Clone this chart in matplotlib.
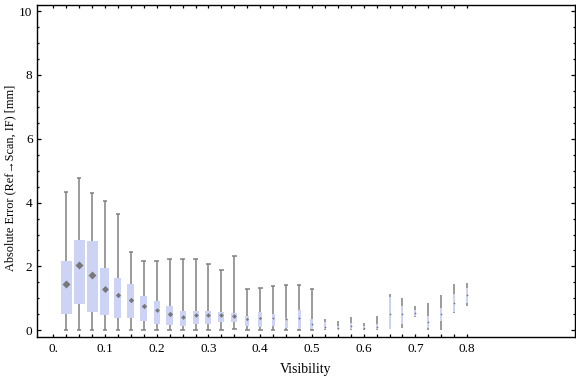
import matplotlib
matplotlib.use('Agg')
import matplotlib.pyplot as plt
from matplotlib.ticker import FixedLocator, MultipleLocator

# ---- data ----
visibility = [0.025, 0.05, 0.075, 0.1, 0.125, 0.15, 0.175, 0.2, 0.225, 0.25,
              0.275, 0.3, 0.325, 0.35, 0.375, 0.4, 0.425, 0.45, 0.475, 0.5,
              0.525, 0.55, 0.575, 0.6, 0.625, 0.65, 0.675, 0.7, 0.725, 0.75,
              0.775, 0.8]
whisker_low = [0, 0, 0, 0, 0, 0, 0, 0, 0, 0,
               0, 0, 0, 0.03, 0, 0, 0, 0, 0, 0.02,
               0.01, 0.01, 0.01, 0.01, 0, 0.03, 0.08, 0.42, 0.02, 0,
               0.55, 0.77]
q1 = [0.52, 0.83, 0.57, 0.49, 0.40, 0.40, 0.30, 0.21, 0.18, 0.15,
      0.21, 0.21, 0.27, 0.27, 0.15, 0.10, 0.15, 0.08, 0.05, 0.04,
      0.03, 0.02, 0.03, 0.03, 0.03, 0.05, 0.21, 0.46, 0.08, 0.30,
      0.57, 0.85]
median = [1.45, 2.04, 1.73, 1.29, 1.10, 0.96, 0.76, 0.63, 0.52, 0.43,
          0.48, 0.48, 0.49, 0.44, 0.35, 0.40, 0.40, 0.34, 0.38, 0.21,
          0.11, 0.07, 0.12, 0.07, 0.10, 0.50, 0.50, 0.55, 0.25, 0.50,
          0.85, 1.10]
q3 = [2.17, 2.83, 2.80, 1.95, 1.64, 1.45, 1.08, 0.92, 0.77, 0.60,
      0.60, 0.60, 0.57, 0.54, 0.45, 0.57, 0.51, 0.39, 0.64, 0.35,
      0.25, 0.13, 0.23, 0.12, 0.20, 1.04, 0.76, 0.64, 0.46, 0.70,
      1.13, 1.32]
whisker_high = [4.32, 4.76, 4.29, 4.04, 3.63, 2.44, 2.16, 2.16, 2.23, 2.22,
                2.22, 2.07, 1.88, 2.32, 1.28, 1.32, 1.38, 1.41, 1.41, 1.28,
                0.35, 0.29, 0.42, 0.23, 0.45, 1.14, 1.01, 0.75, 0.85, 1.11,
                1.45, 1.48]
box_width_px = [11, 11, 11, 9, 7, 7, 7, 6, 7, 6,
                6, 6, 6, 6, 4, 4, 3, 3, 3, 3,
                2, 2, 2, 2, 2, 2, 2, 2, 2, 2, 2, 2]
x_tick_labels = ['0.', '0.1', '0.2', '0.3', '0.4', '0.5', '0.6', '0.7', '0.8']
x_tick_values = [0.0, 0.1, 0.2, 0.3, 0.4, 0.5, 0.6, 0.7, 0.8]
y_tick_values = [0, 2, 4, 6, 8, 10]

# ---- style ----
plt.rcParams['font.family'] = ['Liberation Serif', 'DejaVu Serif']
W, H, DPI = 576, 377, 100
fig = plt.figure(figsize=(W / DPI, H / DPI), dpi=DPI)
left, right, bottom, top = 36.7, 575.3, 337.0, 4.7
ax = fig.add_axes([left / W, 1 - bottom / H, (right - left) / W, (bottom - top) / H])

xmin, xmax = -0.032, 1.009
ax.set_xlim(xmin, xmax)
ax.set_ylim(-0.21, 10.2)
px_per_unit = (right - left) / (xmax - xmin)

box_color = '#ccd3f5'
whisk_color = '#808080'
for i, x in enumerate(visibility):
    w = box_width_px[i] / px_per_unit
    ax.vlines(x, whisker_low[i], whisker_high[i], color=whisk_color, lw=1.1, zorder=2)
    if box_width_px[i] >= 3:
        cw = 4.6 / px_per_unit
        ax.hlines([whisker_low[i], whisker_high[i]], x - cw / 2, x + cw / 2,
                  color=whisk_color, lw=1.1, zorder=2)
    ax.bar(x, q3[i] - q1[i], bottom=q1[i], width=w, color=box_color,
           edgecolor='none', zorder=3)
    ms = max(1.5, min(6.0, box_width_px[i] * 0.55))
    ax.plot(x, median[i], marker='D', ms=ms * 72 / DPI, color='#787878',
            mec='none', zorder=4)

# ticks
ax.xaxis.set_major_locator(FixedLocator(x_tick_values))
ax.set_xticklabels(x_tick_labels)
ax.xaxis.set_minor_locator(FixedLocator(visibility))
ax.yaxis.set_major_locator(FixedLocator(y_tick_values))
ax.yaxis.set_minor_locator(MultipleLocator(0.5))
ax.tick_params(axis='both', which='both', direction='in', top=True, right=True,
               width=0.9, labelsize=9.5, color='black')
ax.tick_params(axis='x', which='both', length=3.2 * 72 / DPI, pad=4)
ax.tick_params(axis='y', which='major', length=4 * 72 / DPI, pad=3)
ax.tick_params(axis='y', which='minor', length=2.2 * 72 / DPI)
for sp in ax.spines.values():
    sp.set_linewidth(1.0)

ax.set_xlabel('Visibility', fontsize=10, va='center')
ax.xaxis.set_label_coords(0.5, -(369 - bottom) / (bottom - top))
ax.set_ylabel('Absolute Error (Ref\u2192Scan, IF) [mm]', fontsize=8.8, va='center')
ax.yaxis.set_label_coords(-(left - 10) / (right - left), (bottom - 178) / (bottom - top))

fig.savefig('out.png', dpi=DPI)
